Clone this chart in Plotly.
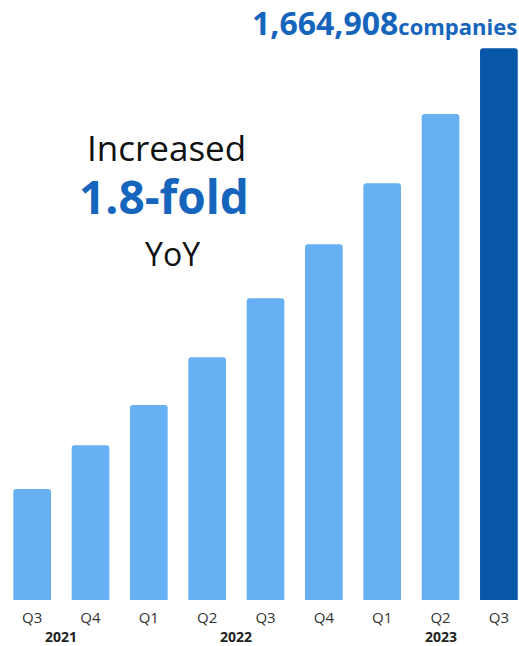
import plotly.graph_objects as go

# Number of registered companies per quarter
quarters = ["Q3", "Q4", "Q1", "Q2", "Q3", "Q4", "Q1", "Q2", "Q3"]
companies = [335000, 467000, 588500, 732500, 910500, 1073500, 1257600, 1466700, 1664908]
year_labels = ["2021", "2022", "2023"]
year_positions = [0.5, 3.5, 7]

LIGHT = "#66B0F3"
DARK = "#0856A8"
ACCENT = "#1565BD"
FONT = "Open Sans"

x_idx = list(range(len(quarters)))
colors = [LIGHT] * (len(companies) - 1) + [DARK]

fig = go.Figure(
    go.Bar(
        x=x_idx,
        y=companies,
        marker=dict(color=colors, line=dict(width=0), cornerradius=3),
        width=0.646,
        hoverinfo="skip",
    )
)

# Headline value above the latest bar
fig.add_annotation(
    x=1.0, xref="paper", xanchor="right",
    y=0.962, yref="paper", yanchor="middle",
    text=f"<b>{companies[-1]:,}</b><b><span style='font-size:22px'>companies</span></b>",
    showarrow=False,
    font=dict(family=FONT, size=32, color=ACCENT),
)

# Growth callout
fig.add_annotation(
    x=166 / 519, xref="paper", xanchor="center",
    y=0.755, yref="paper", yanchor="middle",
    text="Increased", showarrow=False,
    font=dict(family=FONT, size=35, color="#111111"),
)
fig.add_annotation(
    x=164 / 519, xref="paper", xanchor="center",
    y=0.673, yref="paper", yanchor="middle",
    text="<b>1.8-fold</b>", showarrow=False,
    font=dict(family=FONT, size=46, color=ACCENT),
)
fig.add_annotation(
    x=172 / 519, xref="paper", xanchor="center",
    y=0.578, yref="paper", yanchor="middle",
    text="YoY", showarrow=False,
    font=dict(family=FONT, size=32, color="#111111"),
)

# Year labels under the quarter ticks
for label, pos in zip(year_labels, year_positions):
    fig.add_annotation(
        x=pos, xref="x", xanchor="center",
        y=-0.06, yref="paper", yanchor="middle",
        text=f"<b>{label}</b>", showarrow=False,
        font=dict(family=FONT, size=14, color="#222222"),
    )

fig.update_layout(
    width=519, height=646,
    margin=dict(l=0, r=0, t=0, b=46),
    paper_bgcolor="white", plot_bgcolor="white",
    showlegend=False,
    xaxis=dict(
        tickmode="array", tickvals=x_idx, ticktext=quarters,
        range=[-0.551, 8.345], showgrid=False, zeroline=False,
        showline=False, ticks="",
        tickfont=dict(family=FONT, size=15, color="#333333"),
        ticklabelstandoff=7,
    ),
    yaxis=dict(
        range=[0, companies[-1] * 600 / 551.7],
        visible=False, showgrid=False, zeroline=False,
    ),
)

fig.write_html("out.html")
